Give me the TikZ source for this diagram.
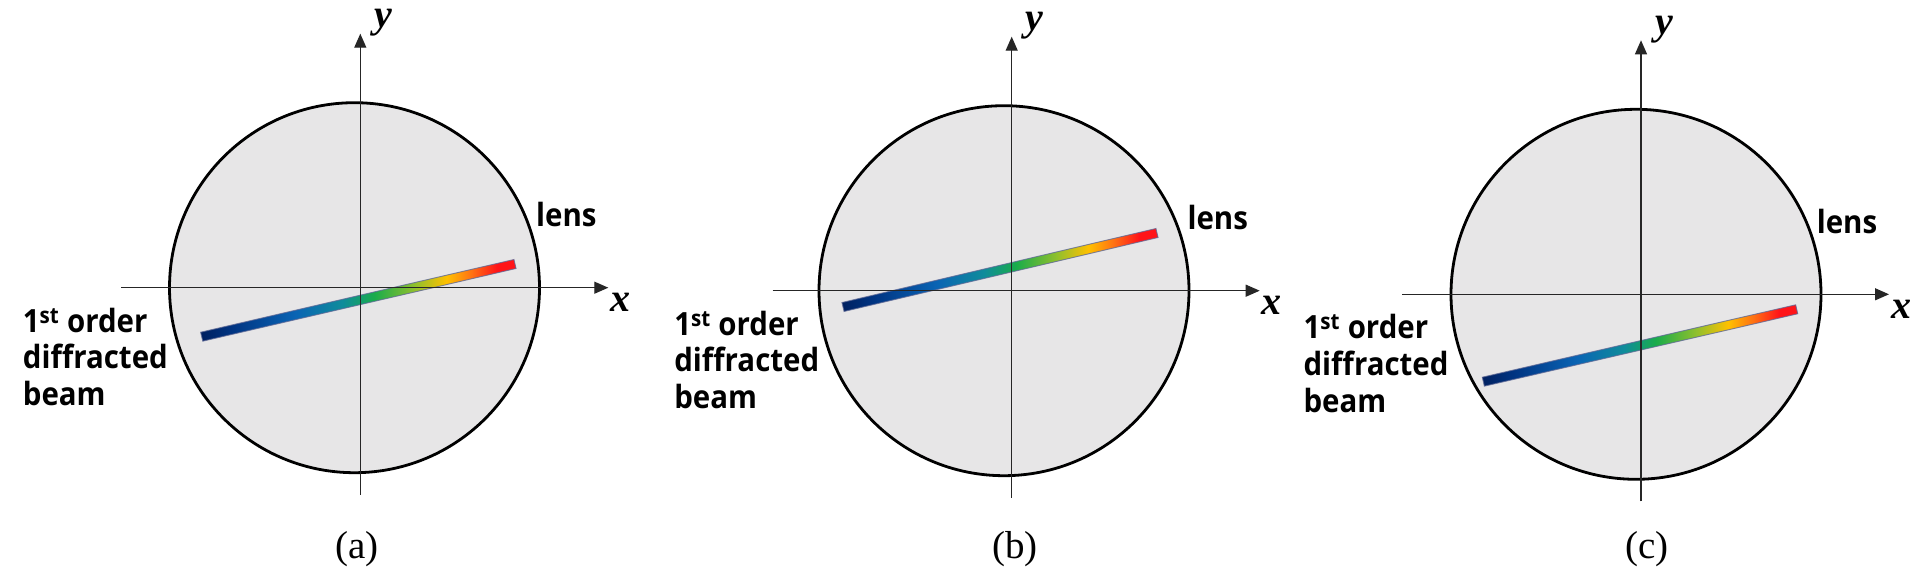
\documentclass[tikz,border=0pt]{standalone}
\usepackage{fontspec}
\setmainfont{Liberation Serif}
\newfontfamily\lblfont{Open Sans}[FakeStretch=0.92]
\usetikzlibrary{arrows.meta,calc}
\definecolor{lensfill}{RGB}{231,230,231}
\definecolor{beamedge}{RGB}{95,105,150}
\definecolor{jA}{RGB}{0,32,96}
\definecolor{jB}{RGB}{0,52,130}
\definecolor{jC}{RGB}{10,100,180}
\definecolor{jD}{RGB}{15,140,155}
\definecolor{jE}{RGB}{25,172,75}
\definecolor{jF}{RGB}{145,192,45}
\definecolor{jG}{RGB}{255,192,0}
\definecolor{jH}{RGB}{255,112,20}
\definecolor{jI}{RGB}{255,20,25}
\pgfdeclarehorizontalshading{jetbeam}{100bp}{color(0bp)=(jA); color(25bp)=(jA); color(30bp)=(jB); color(40bp)=(jC); color(47.5bp)=(jD); color(52.5bp)=(jE); color(59bp)=(jF); color(64bp)=(jG); color(68bp)=(jH); color(72bp)=(jI); color(100bp)=(jI)}
\tikzset{
  lensdisc/.style={circle, draw=black, line width=2.8pt, fill=lensfill, minimum size=370pt, inner sep=0pt},
  axisline/.style={line width=1.2pt, draw=black!85, -{Triangle[length=14pt,width=12pt]}},
  axislbl/.style={font=\fontsize{40}{42}\selectfont\bfseries\itshape, inner sep=0pt},
  lenslbl/.style={font=\lblfont\bfseries\fontsize{32}{36.7}\selectfont, inner sep=0pt},
  beamlbl/.style={font=\lblfont\bfseries\fontsize{32}{36.7}\selectfont, inner sep=0pt, align=left, anchor=north west},
  sublbl/.style={font=\fontsize{39}{41}\selectfont, inner sep=0pt},
  beamstrip/.style={shading=jetbeam, draw=beamedge, line width=0.9pt, draw opacity=0.8}
}
\begin{document}
\begin{tikzpicture}[x=1pt,y=-1pt]
\useasboundingbox (0,0) rectangle (1920,585);
\fill[white] (0,0) rectangle (1920,585);
\foreach \p/\ox/\oy/\cx/\bax/\bay/\bbx/\bby/\sx in {a/360.3/287.7/354.5/201.7/336.7/515/264/357, b/1011.7/290.7/1004/843/307/1157/233/1015, c/1641/294.3/1636/1483.3/381.7/1796.7/309.3/1647}{
  \coordinate (\p-o) at (\ox,\oy);
  \node[lensdisc] (\p-lens) at (\cx,\oy) {};
  \coordinate (\p-b1) at (\bax,\bay);
  \coordinate (\p-b2) at (\bbx,\bby);
  \shade[beamstrip] ($(\p-b1)!4.6pt!90:(\p-b2)$) -- ($(\p-b2)!4.6pt!-90:(\p-b1)$) -- ($(\p-b2)!4.6pt!90:(\p-b1)$) -- ($(\p-b1)!4.6pt!-90:(\p-b2)$) -- cycle;
  \coordinate (\p-xs) at ($(\p-o)+(-239,0)$);
  \coordinate (\p-xe) at ($(\p-o)+(248,0)$);
  \coordinate (\p-ys) at ($(\p-o)+(0,207)$);
  \coordinate (\p-ye) at ($(\p-o)+(0,-254)$);
  \draw[axisline] (\p-xs) -- (\p-xe);
  \draw[axisline] (\p-ys) -- (\p-ye);
  \node[axislbl] (\p-xl) at ($(\p-o)+(260,15)$) {x};
  \node[axislbl] (\p-yl) at ($(\p-o)+(23,-265)$) {y};
  \node[lenslbl] (\p-lenstext) at ($(\p-o)+(206,-73)$) {lens};
  \node[beamlbl] (\p-beamtext) at ($(\p-o)+(-337.6,20)$) {1\textsuperscript{st} order\\diffracted\\beam};
  \node[sublbl] (\p-sub) at (\sx,549) {(\p)};
}
\end{tikzpicture}
\end{document}
